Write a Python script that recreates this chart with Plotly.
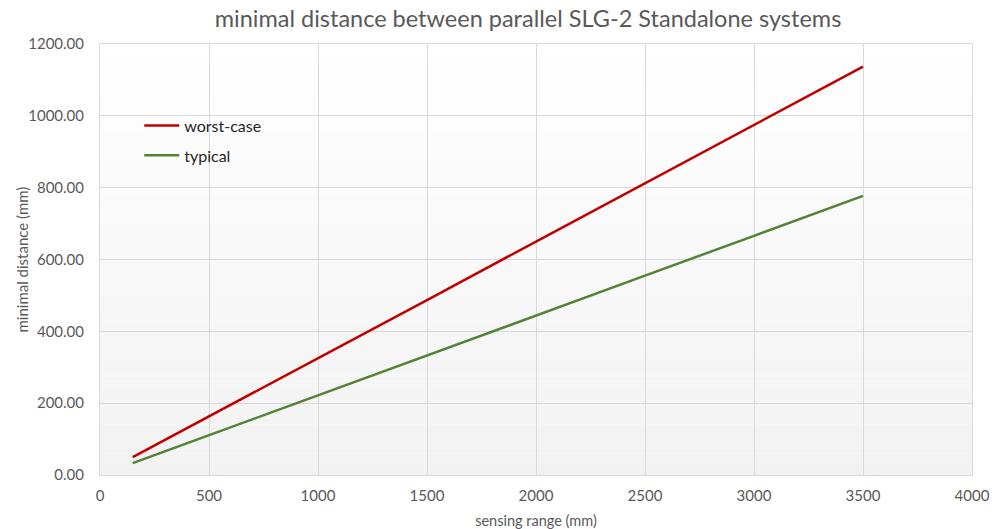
import plotly.graph_objects as go

# Data
sensing_range = [150, 500, 1000, 1500, 2000, 2500, 3000, 3500]
worst_case = [50, 163, 325, 487, 650, 812, 975, 1137]
typical = [33, 111, 222, 333, 444, 555, 666, 777]
series_names = ["worst-case", "typical"]
x_ticks = [0, 500, 1000, 1500, 2000, 2500, 3000, 3500, 4000]
y_ticks = [0, 200, 400, 600, 800, 1000, 1200]

FONT = "Lato"
GRAY = "#595959"
GRID = "#d9d9d9"

fig = go.Figure()
fig.add_trace(go.Scatter(x=sensing_range, y=worst_case, mode="lines", name=series_names[0],
                         line=dict(color="#c00000", width=2.5), legendgroup="a"))
fig.add_trace(go.Scatter(x=sensing_range, y=typical, mode="lines", name=series_names[1],
                         line=dict(color="#548235", width=2.5), legendgroup="b"))

# vertical gradient background (white top -> light gray bottom)
n = 60
shapes = []
for i in range(n):
    t = (i + 0.5) / n  # 0 at bottom, 1 at top
    v = int(round(242 + (255 - 242) * t))
    shapes.append(dict(type="rect", xref="x domain", yref="y domain",
                       x0=0, x1=1, y0=i / n, y1=(i + 1) / n,
                       fillcolor=f"rgb({v},{v},{v})", line=dict(width=0), layer="below"))

fig.update_layout(
    width=997, height=529,
    margin=dict(l=100, r=25, t=44, b=54),
    paper_bgcolor="white", plot_bgcolor="white",
    shapes=shapes,
    title=dict(text="minimal distance between parallel SLG-2 Standalone systems",
               x=0.5296, xanchor="center", y=0.964, yanchor="middle",
               font=dict(family=FONT, size=23.5, color=GRAY)),
    font=dict(family=FONT, color=GRAY),
    xaxis=dict(range=[0, 4000], tickvals=x_ticks, showgrid=True, gridcolor=GRID, gridwidth=1,
               showline=True, linecolor=GRID, mirror=True, zeroline=False, ticks="",
               automargin=False,
               tickfont=dict(size=15, color=GRAY), ticklabelstandoff=7,
               title=dict(text="sensing range (mm)", font=dict(size=14.5, color=GRAY), standoff=12)),
    yaxis=dict(range=[0, 1200], tickvals=y_ticks, tickformat=".2f", showgrid=True,
               automargin=False,
               gridcolor=GRID, gridwidth=1, showline=True, linecolor=GRID, mirror=True,
               zeroline=False, ticks="", tickfont=dict(size=15, color=GRAY), ticklabelstandoff=12),
    annotations=[dict(text="minimal distance (mm)", textangle=-90, xref="paper", yref="paper",
                      x=0, y=0.5, xanchor="center", yanchor="middle", xshift=-79, showarrow=False,
                      font=dict(family=FONT, size=15, color=GRAY))],
    showlegend=True,
    legend=dict(x=0.045, y=0.85, xanchor="left", yanchor="top", bgcolor="rgba(0,0,0,0)",
                font=dict(family=FONT, size=16, color="#262626"), tracegroupgap=6,
                itemwidth=35),
)

fig.write_html("out.html", config={"displayModeBar": False},
               post_script="document.body.style.margin='0';")
